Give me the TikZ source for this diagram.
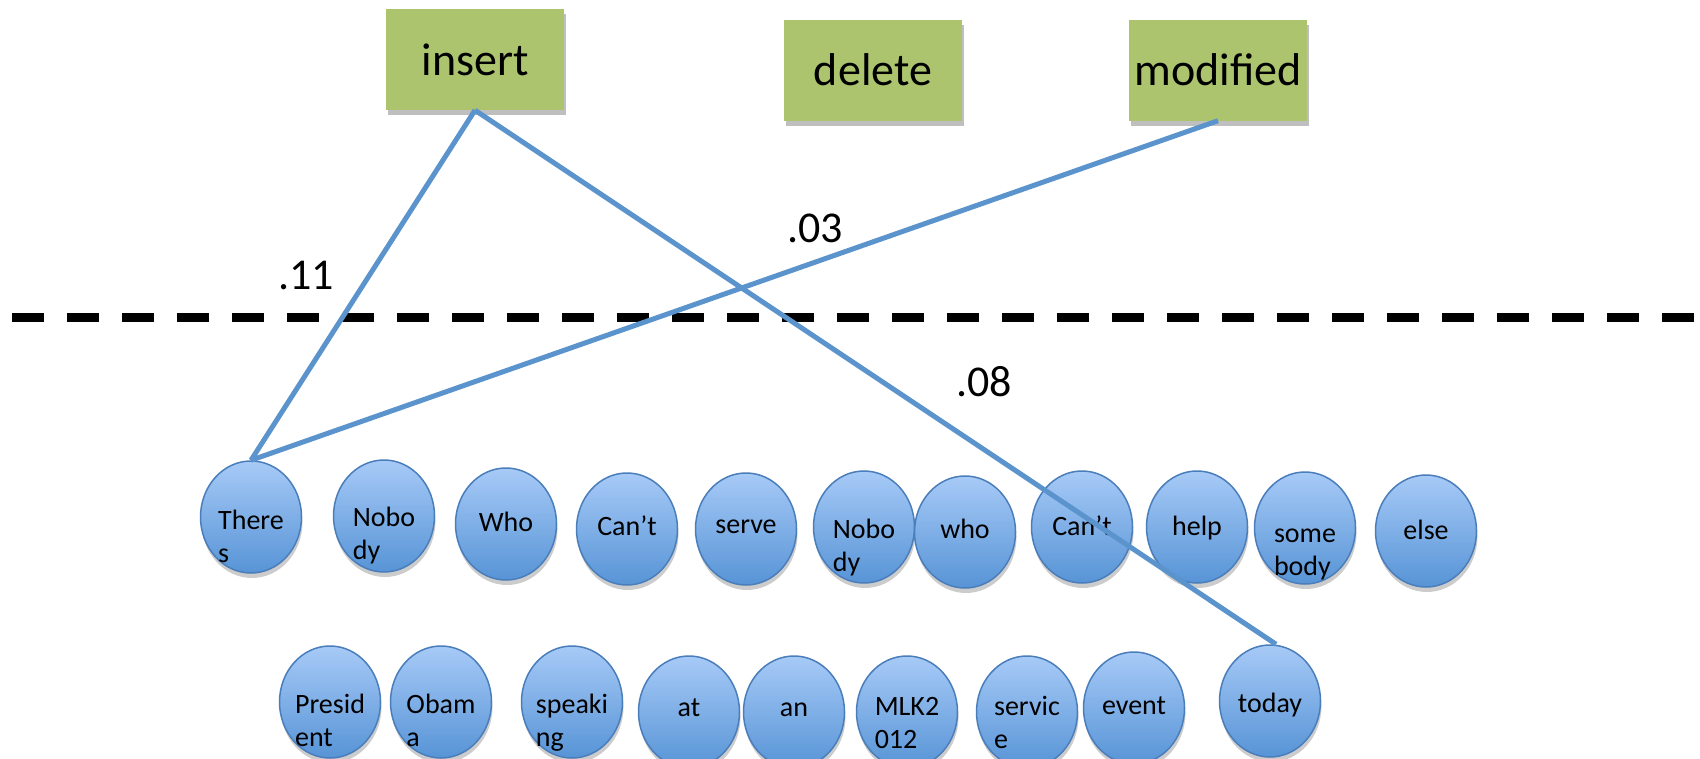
\documentclass[tikz,border=0pt]{standalone}
\usepackage{fontspec}
\setmainfont{Carlito}
\usetikzlibrary{shapes.geometric,shadows,calc}
\definecolor{boxgreen}{RGB}{171,196,109}
\definecolor{ellborder}{RGB}{74,126,187}
\definecolor{elltop}{RGB}{167,202,247}
\definecolor{ellbot}{RGB}{87,148,214}
\definecolor{linkblue}{RGB}{91,148,205}
\tikzset{
  opbox/.style={fill=boxgreen, minimum width=178pt, minimum height=101pt, inner sep=0pt,
    font=\fontsize{46}{55}\selectfont,
    drop shadow={shadow xshift=2pt, shadow yshift=-5pt, opacity=0.25, fill=black}},
  word/.style={ellipse, draw=ellborder, line width=1.5pt, top color=elltop, bottom color=ellbot,
    minimum width=101pt, minimum height=112pt, inner sep=0pt,
    drop shadow={shadow xshift=1pt, shadow yshift=-5pt, opacity=0.2, fill=black}},
  wtext/.style={anchor=north, inner sep=0pt, align=left, font=\fontsize{28}{33}\selectfont},
  link/.style={draw=linkblue, line width=5pt},
  weight/.style={inner sep=0pt, font=\fontsize{44}{52}\selectfont},
  cut/.style={line width=9pt, dash pattern=on 32pt off 23pt}
}
% name, x, y, text, baseline offset
\newcommand\wordnode[5]{%
  \node[word] (#1) at (#2,#3) {};
  \node[wtext] (t#1) at ($(#1.center)+(0,#5-23.1)$) {\strut #4};
}
\begin{document}
\begin{tikzpicture}[x=1pt,y=-1pt]
\useasboundingbox (0,0) rectangle (1700,758);
\fill[white] (0,0) rectangle (1700,758);

% dashed cut line
\coordinate (dl) at (12,317);
\coordinate (dr) at (1700,317);
\draw[cut] (dl) -- (dr);

% operation boxes
\node[opbox] (insert) at (475,59.5) {insert};
\node[opbox] (delete) at (873,70) {delete};
\node[opbox] (modified) at (1218,70) {modified};

% row 1
\wordnode{w1}{251}{517}{There\\s}{12}
\wordnode{w2}{384}{516}{Nobo\\dy}{10}
\wordnode{w3}{506}{524}{Who}{7}
\wordnode{w4}{627}{529}{Can’t}{6}
\wordnode{w5}{746}{529}{serve}{4}
\wordnode{w6}{864}{527}{Nobo\\dy}{11}
\wordnode{w7}{965}{532}{who}{6}
\wordnode{w8}{1082}{527}{Can’t}{8}
\wordnode{w9}{1197}{527}{help}{8}
\wordnode{w10}{1305}{528}{some\\body}{14}
\wordnode{w11}{1426}{531}{else}{8}

% row 2
\wordnode{v1}{330}{702}{Presid\\ent}{11}
\wordnode{v2}{441}{702}{Obam\\a}{11}
\wordnode{v3}{572}{702}{speaki\\ng}{11}
\wordnode{v4}{689}{712}{at}{4}
\wordnode{v5}{794}{712}{an}{4}
\wordnode{v6}{907}{712}{MLK2\\012}{3}
\wordnode{v7}{1027}{712}{servic\\e}{3}
\wordnode{v8}{1134}{708}{event}{6}
\wordnode{v9}{1270}{701}{today}{11}

% connectors
\draw[link] (insert.south) -- (w1.north);
\draw[link] (insert.south) -- ($(v9.north)+(6,0)$);
\draw[link] (modified.south) -- (w1.north);

% weights
\node[weight] (l11) at (306,276) {.11};
\node[weight] (l03) at (815,228) {.03};
\node[weight] (l08) at (984,382) {.08};
\end{tikzpicture}
\end{document}
